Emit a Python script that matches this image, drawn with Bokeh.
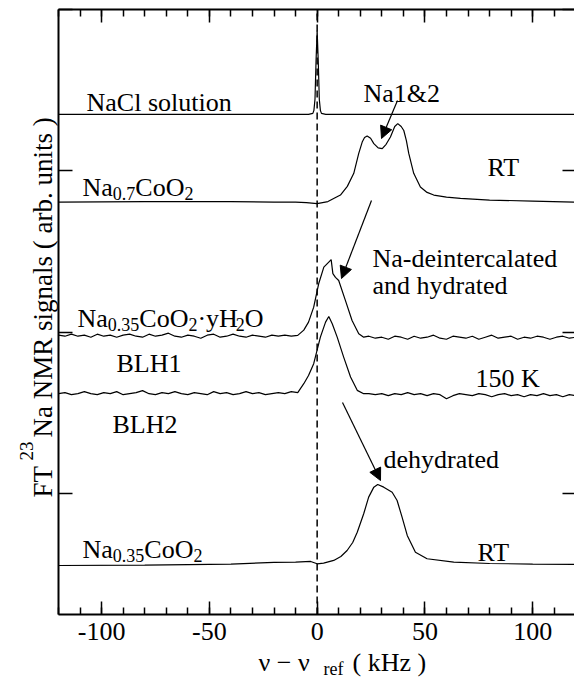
import math
from bokeh.plotting import figure
from bokeh.models import (Range1d, LinearAxis, SingleIntervalTicker, FixedTicker,
                          Label, Arrow, NormalHead)
from bokeh.embed import file_html
from bokeh.resources import INLINE

# ---------------- data (x in kHz, y in arb. units) ----------------
nacl_x = [-120, -60, -10, -4, -2, -1.5, -1, -0.5, 0, 0.5, 1, 1.5, 2, 4, 10, 60, 120]
nacl_y = [496, 496, 496, 496, 497, 500, 511, 550, 579, 550, 511, 500, 497, 496, 496, 496, 496]

na07_x = [-120, -80, -40, -20, -10, -5, 0, 5, 10.8, 14, 17, 19.3, 20.9, 22, 23.2, 24.8,
          26.3, 28.3, 30.2, 32, 34, 36, 37.4, 39, 40.2, 41.4, 42.5, 44.8, 47.9, 51,
          54.1, 60, 66.5, 80, 100, 120]
na07_y = [409, 409.5, 409.5, 409, 409, 408.5, 407.5, 409.5, 416, 424.6, 437.5, 457.3,
          468.5, 473, 474.5, 472.3, 467, 462.8, 462, 466.3, 473.5, 484, 486.8, 484, 480,
          470, 457.3, 437.5, 423.9, 418.6, 416, 414, 412.7, 411, 410, 409]

blh1_x = [-120, -117, -114, -111, -108, -105, -102, -99, -96, -93, -90, -87, -84, -81,
          -78, -75, -72, -69, -66, -63, -60, -57, -54, -51, -48, -45, -42, -39, -36,
          -33, -30, -27, -24, -21, -18, -15, -12,
          -9, -6.2, -4, -1.6, 0.7, 3.1, 5.4, 6.5, 7.3, 8.5, 10, 13.1, 16.2, 19.3, 21.6,
          24, 27, 30, 33, 36, 39, 42, 45, 48, 51, 54, 57, 60, 63, 66, 69, 72, 75, 78,
          81, 84, 87, 90, 93, 96, 99, 102, 105, 108, 111, 114, 117, 120]
blh1_y = [277, 276, 278, 276, 277, 275, 278, 276, 277, 275, 277, 278, 276, 275, 278,
          276, 277, 279, 276, 275, 277, 276, 274, 277, 278, 275, 276, 278, 276, 275,
          277, 276, 275, 277, 276, 277, 276,
          276.8, 282, 290, 304.8, 328, 344.5, 349.5, 351.9, 338, 334.3, 331.3, 311.5,
          291.6, 278.4, 275,
          276, 274, 275, 273, 276, 275, 273, 276, 274, 275, 277, 274, 273, 276, 275,
          274, 276, 273, 275, 277, 274, 275, 276, 273, 275, 274, 276, 275, 273, 275,
          276, 274, 275]

blh2_x = [-120, -117, -114, -111, -108, -105, -102, -99, -96, -93, -90, -87, -84, -81,
          -78, -75, -72, -69, -66, -63, -60, -57, -54, -51, -48, -45, -42, -39, -36,
          -33, -30, -27, -24, -21, -18, -15, -12, -9,
          -6.2, -4, -1.6, 1.5, 3.9, 5.4, 7, 9.3, 12.3, 15.5, 18.6, 21.6,
          24, 27, 30, 33, 36, 39, 42, 45, 48, 51, 54, 57, 60, 63, 66, 69, 72, 75, 78,
          81, 84, 87, 90, 93, 96, 99, 102, 105, 108, 111, 114, 117, 120]
blh2_y = [219, 220, 218, 219, 221, 219, 218, 220, 219, 221, 218, 219, 220, 222, 219,
          218, 220, 219, 221, 219, 218, 220, 219, 218, 221, 219, 220, 218, 219, 221,
          219, 220, 218, 219, 220, 219, 221, 220,
          228.9, 237, 248.7, 275.1, 290, 295.6, 288.4, 275.1, 255.3, 235.5, 222.3, 219,
          219, 218, 219, 217, 219, 218, 220, 218, 219, 217, 219, 218, 214, 217, 219,
          218, 217, 219, 218, 216, 218, 219, 217, 218, 216, 218, 217, 219, 217, 218,
          216, 218, 217]

dehy_x = [-120, -80, -40, -20, -10, -3, 0, 3, 7.7, 11, 13.9, 16.5, 18.6, 21.6, 23.9,
          26.3, 28.1, 30.9, 34.8, 37.1, 39.4, 41.8, 45.6, 51, 63.4, 80, 100, 120]
dehy_y = [48.6, 49, 50, 51.6, 52, 52.6, 50.3, 51, 53.6, 57.5, 63.5, 71.4, 81.6, 99.9,
          116.4, 126.3, 129, 126.3, 121.3, 113.1, 96.5, 78.4, 61.8, 55.3, 51.9, 50.6,
          50, 49.6]

x_ticks = [-100, -50, 0, 50, 100]
x_tick_labels = ["-100", "-50", "0", "50", "100"]
y_ticks = [120, 280, 440, 600]

# ---------------- geometry (page pixels <-> data) ----------------
W_PAGE, H_PAGE = 574, 679
FR_L, FR_R, FR_T, FR_B = 58, 574, 9, 614      # axes box in page pixels
X0, X1, Y0, Y1 = -120, 119.4, 0, 600          # axes box in data units

def dx(px):
    return X0 + (px - FR_L) * (X1 - X0) / (FR_R - FR_L)

def dy(py):
    return Y0 + (FR_B - py) * (Y1 - Y0) / (FR_B - FR_T)

FONT = "Liberation Serif"
FS = 26
FS_SUB = 18
SUB_DROP = 6

# the frame covers the whole canvas; axes are fixed at the box edges
p = figure(width=W_PAGE, height=H_PAGE,
           x_range=Range1d(dx(0), dx(W_PAGE)), y_range=Range1d(dy(H_PAGE), dy(0)),
           output_backend="svg", toolbar_location=None,
           x_axis_location=None, y_axis_location=None,
           min_border_left=0, min_border_right=0, min_border_top=0, min_border_bottom=0)
p.outline_line_color = None
p.xgrid.visible = False
p.ygrid.visible = False
p.background_fill_color = "white"
p.border_fill_color = "white"

def style_axis(ax, labels):
    ax.axis_line_width = 2
    ax.axis_line_color = "black"
    ax.major_tick_line_width = 1.5
    ax.minor_tick_line_width = 1.5
    ax.major_tick_in = 13
    ax.major_tick_out = 0
    ax.minor_tick_in = 7
    ax.minor_tick_out = 0
    if labels:
        ax.major_label_text_font = FONT
        ax.major_label_text_font_size = f"{FS}px"
        ax.major_label_text_color = "black"
        ax.major_label_standoff = 8
    else:
        ax.major_label_text_font_size = "2px"
        ax.major_label_text_color = None
        ax.major_label_standoff = 0

xb = LinearAxis(ticker=SingleIntervalTicker(interval=50, num_minor_ticks=5),
                fixed_location=Y0, bounds=(X0, X1))
style_axis(xb, True)
xb.major_label_overrides = {t: s for t, s in zip(x_ticks, x_tick_labels)}
p.add_layout(xb, "below")

xt = LinearAxis(ticker=SingleIntervalTicker(interval=50, num_minor_ticks=5),
                fixed_location=Y1, bounds=(X0, X1))
style_axis(xt, False)
p.add_layout(xt, "above")

yl = LinearAxis(ticker=FixedTicker(ticks=y_ticks, minor_ticks=[]),
                fixed_location=X0, bounds=(Y0, Y1))
style_axis(yl, False)
yl.major_tick_in = 14
p.add_layout(yl, "left")

yr = LinearAxis(ticker=FixedTicker(ticks=y_ticks, minor_ticks=[]),
                fixed_location=X1, bounds=(Y0, Y1))
style_axis(yr, False)
yr.major_tick_in = 12
yr.axis_line_color = None
p.add_layout(yr, "right")

# dashed reference line at nu = nu_ref
p.segment(x0=[0], y0=[Y0], x1=[0], y1=[Y1], line_color="black",
          line_width=1.5, line_dash="7 4")

# spectra
for xs, ys in [(nacl_x, nacl_y), (na07_x, na07_y), (blh1_x, blh1_y),
               (blh2_x, blh2_y), (dehy_x, dehy_y)]:
    p.line(xs, ys, line_color="black", line_width=1.2)

def label(text, px, py, size=FS, angle=0.0):
    p.add_layout(Label(x=dx(px), y=dy(py), text=text, text_font=FONT,
                       text_font_size=f"{size}px", text_color="black",
                       text_align="left", text_baseline="alphabetic", angle=angle))

W = {'N': .722, 'a': .444, 'C': .667, 'o': .5, 'O': .722, 'y': .5, 'H': .722,
     '.': .25, '\u00b7': .25, '0': .5, '2': .5, '3': .5, '5': .5, '7': .5}

def formula(parts, px, py):
    x = px
    for txt, sub in parts:
        size = FS_SUB if sub else FS
        label(txt, x, py + (SUB_DROP if sub else 0), size)
        x += sum(W[c] for c in txt) * size

label("NaCl solution", 86, 102)
formula([("Na", False), ("0.7", True), ("CoO", False), ("2", True)], 82, 187)
formula([("Na", False), ("0.35", True), ("CoO", False), ("2", True),
         ("\u00b7yH", False), ("2", True), ("O", False)], 77, 318)
label("BLH1", 116, 363)
label("BLH2", 112, 424)
formula([("Na", False), ("0.35", True), ("CoO", False), ("2", True)], 82, 549)
label("Na1&2", 363, 93)
label("RT", 487, 167)
label("Na-deintercalated", 372, 258)
label("and hydrated", 372, 285)
label("150 K", 475, 378)
label("dehydrated", 383, 459)
label("RT", 477, 552)

# axis titles (composed pieces)
label("\u03bd \u2212 \u03bd", 258, 662)
label("ref", 323, 668, FS_SUB)
label("( kHz )", 352, 662)

label("FT", 42, 497, 27, math.pi / 2)
label("23", 26, 460, 19, math.pi / 2)
label("Na NMR signals ( arb. units )", 42, 437, 27, math.pi / 2)

# arrows
for (x0, y0, x1, y1) in [(397, 100, 381, 138), (371, 200, 341, 278), (342, 402, 380, 480)]:
    p.add_layout(Arrow(end=NormalHead(size=12, fill_color="black", line_color="black"),
                       x_start=dx(x0), y_start=dy(y0), x_end=dx(x1), y_end=dy(y1),
                       line_color="black", line_width=1.2))

open("out.html", "w").write(file_html(p, INLINE))
